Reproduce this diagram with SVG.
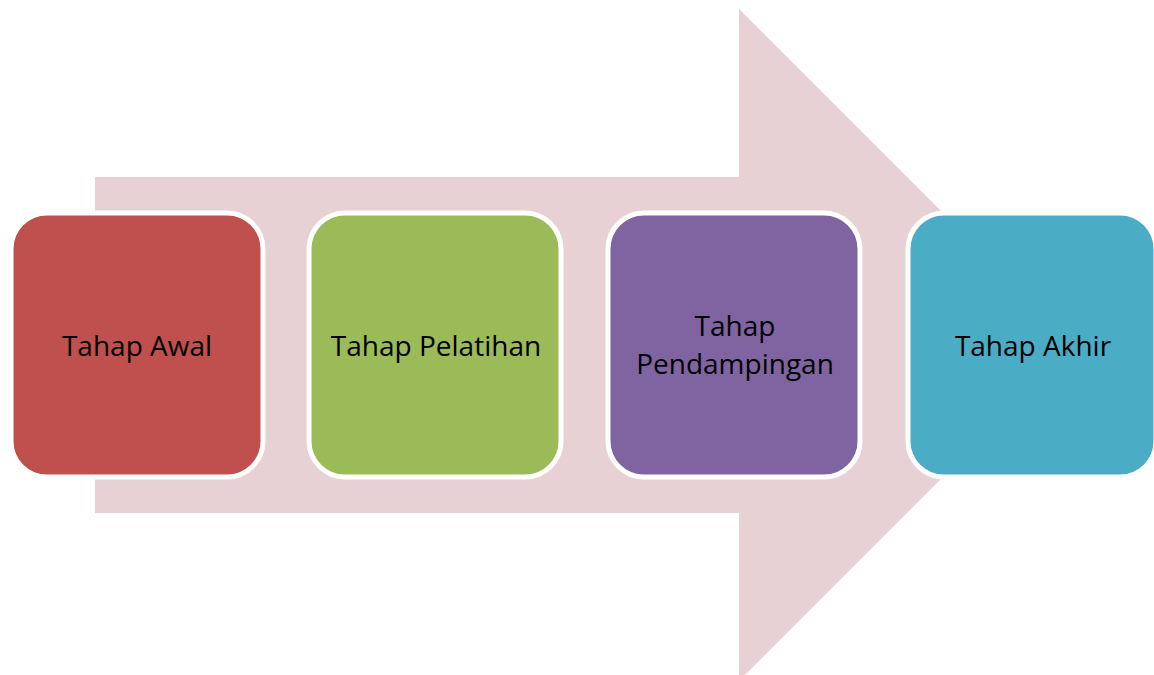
<svg xmlns="http://www.w3.org/2000/svg" width="1154" height="675" viewBox="0 0 1154 675">
<style>
.box{stroke:#ffffff;stroke-width:5}
.lbl{font-family:"Open Sans","Noto Sans","Liberation Sans",sans-serif;font-size:28px;fill:#000000;text-anchor:middle}
</style>
<rect width="1154" height="675" fill="#ffffff"/>
<g id="connectors">
<path d="M95,177 H739 V9 L1075,345 L739,681 V513 H95 Z" fill="#E8D1D4"/>
</g>
<g id="n1">
<rect class="box" x="11" y="213" width="252" height="264" rx="36" fill="#C0504D"/>
<text class="lbl" x="137" y="356">Tahap Awal</text>
</g>
<g id="n2">
<rect class="box" x="309" y="213" width="252" height="264" rx="36" fill="#9BBB59"/>
<text class="lbl" x="436" y="356">Tahap Pelatihan</text>
</g>
<g id="n3">
<rect class="box" x="608" y="213" width="252" height="264" rx="36" fill="#8064A2"/>
<text class="lbl" x="735" y="336">Tahap</text>
<text class="lbl" x="735" y="374">Pendampingan</text>
</g>
<g id="n4">
<rect class="box" x="908" y="213" width="248" height="264" rx="36" fill="#4BACC6"/>
<text class="lbl" x="1033" y="356">Tahap Akhir</text>
</g>
</svg>
